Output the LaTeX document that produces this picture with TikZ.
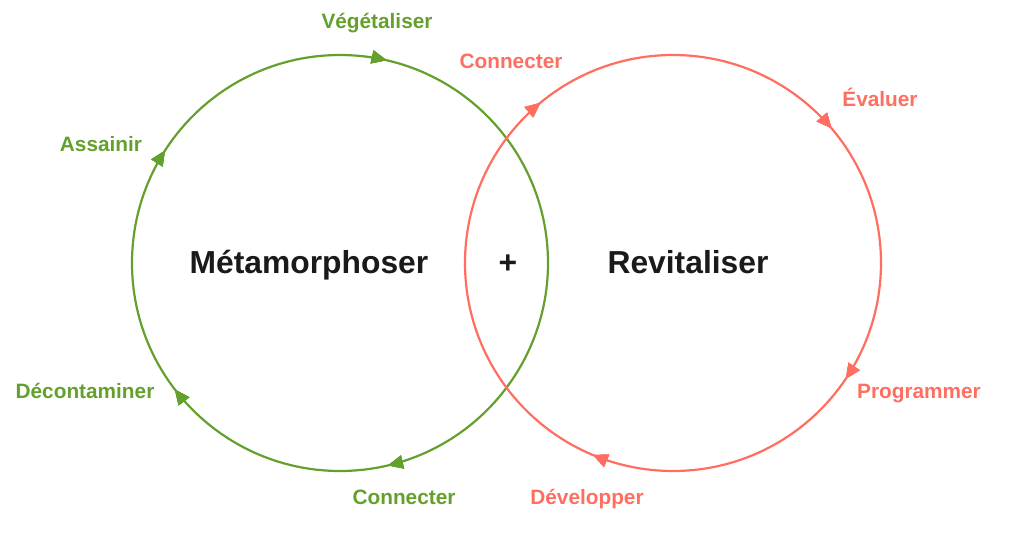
\documentclass[tikz,border=0pt]{standalone}
\usepackage{fontspec}
\setmainfont{Liberation Sans}
\usetikzlibrary{arrows.meta,decorations.markings}
\definecolor{leafgreen}{HTML}{64A02C}
\definecolor{salmon}{HTML}{FF6E60}
\definecolor{inkdark}{HTML}{1A1A1A}
\begin{document}
\begin{tikzpicture}[x=1pt,y=1pt,
  ring/.style={line width=2.2pt},
  cw/.style={decoration={markings,
      mark=at position #1 with {\arrowreversed{Triangle[length=15pt,width=13pt]}}},
      postaction={decorate}},
  lbl/.style={font=\fontsize{20.8}{24}\selectfont\bfseries, inner sep=0pt,
      text height=0.72em, text depth=0.2em},
  title/.style={font=\fontsize{31.8}{36}\selectfont\bfseries, text=inkdark,
      inner sep=0pt, text height=0.72em, text depth=0.2em}]
\useasboundingbox (0,0) rectangle (1026,547);

% centres of the two cycles
\coordinate (gc) at (340,284);
\coordinate (rc) at (673,284);

% green cycle, running clockwise
\draw[ring, leafgreen, cw=0.214, cw=0.409, cw=0.604, cw=0.787]
  (gc) circle[radius=208];

% red cycle, running clockwise
\draw[ring, salmon, cw=0.112, cw=0.360, cw=0.687, cw=0.906]
  (rc) circle[radius=208];

% central titles
\node[title] (meta) at (309,276) {Métamorphoser};
\node[title] (plus) at (508,276) {+};
\node[title] (revi) at (688,276) {Revitaliser};

% green labels
\node[lbl, text=leafgreen] (veg) at (377,521) {Végétaliser};
\node[lbl, text=leafgreen] (ass) at (101,398) {Assainir};
\node[lbl, text=leafgreen] (dec) at (85,151) {Décontaminer};
\node[lbl, text=leafgreen] (cong) at (404,45) {Connecter};

% red labels
\node[lbl, text=salmon] (conr) at (511,481) {Connecter};
\node[lbl, text=salmon] (eva) at (880,443) {Évaluer};
\node[lbl, text=salmon] (pro) at (919,151) {Programmer};
\node[lbl, text=salmon] (dev) at (587,45) {Développer};
\end{tikzpicture}
\end{document}
